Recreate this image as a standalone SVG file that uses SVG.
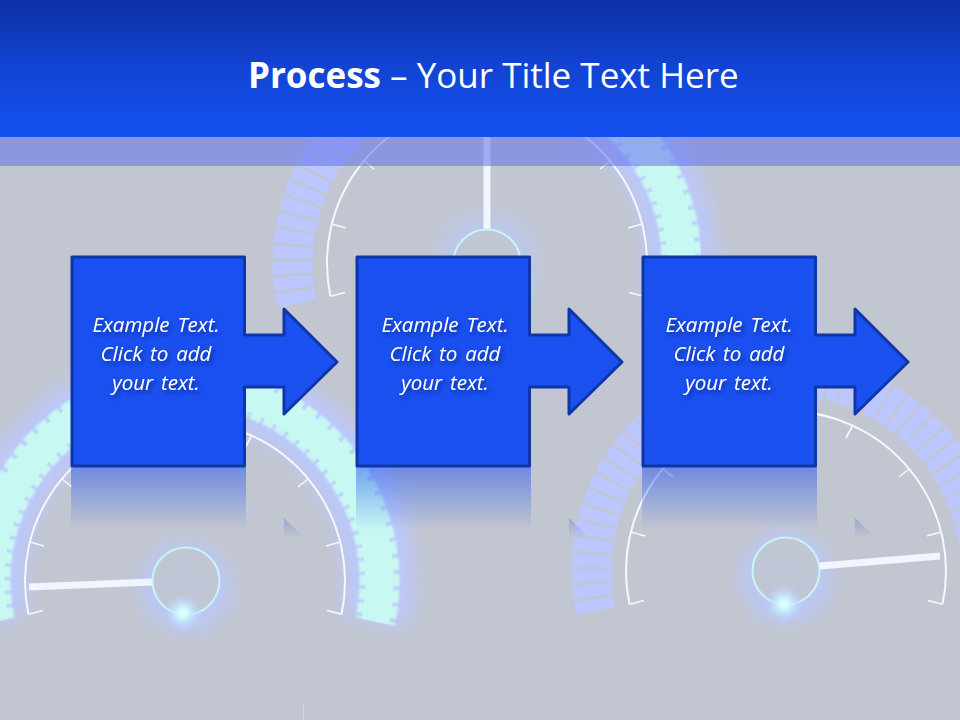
<svg xmlns="http://www.w3.org/2000/svg" width="960" height="720" viewBox="0 0 960 720">
<style>
.lav{fill:none;stroke:#bcc6ff;stroke-width:40;stroke-dasharray:12.5 2.5}
.aq{fill:none;stroke:#c8f8f2;stroke-width:40;stroke-dasharray:12 3;filter:url(#soft)}
.aqc{fill:none;stroke:#c8f8f2;stroke-width:28}
.halo{fill:none;stroke:#bcc8fd;stroke-width:68;filter:url(#blur)}
.arc{fill:none;stroke:#f4f8ff;stroke-width:2}
.tk{stroke:#f4f8ff;stroke-width:1.6}
.needle{stroke:#f2f5ff;stroke-width:7;fill:none}
.hub{fill:#c2c6d0;fill-opacity:.85;stroke:#c8f4f8;stroke-width:2}
.box{fill:#1a50f0;stroke:#0e36a8;stroke-width:3;stroke-linejoin:round}
.lbl{font-family:"Open Sans","Noto Sans",sans-serif;font-style:italic;font-size:20.500px;fill:#fff;text-anchor:middle;word-spacing:2.500px;filter:url(#ts)}
.ttl{font-family:"Open Sans","Noto Sans",sans-serif;font-size:35px;fill:#fff}
</style>
<defs>
<linearGradient id="hd" x1="0" y1="0" x2="0" y2="1"><stop offset="0" stop-color="#0c30a4"/><stop offset=".5" stop-color="#1244d4"/><stop offset="1" stop-color="#1450f0"/></linearGradient>
<linearGradient id="rf" x1="0" y1="467" x2="0" y2="530" gradientUnits="userSpaceOnUse"><stop offset="0" stop-color="#1a50f0" stop-opacity=".5"/><stop offset="1" stop-color="#1a50f0" stop-opacity="0"/></linearGradient>
<linearGradient id="rt" x1="0" y1="516" x2="0" y2="538" gradientUnits="userSpaceOnUse"><stop offset="0" stop-color="#2a50d0" stop-opacity=".3"/><stop offset="1" stop-color="#2a50d0" stop-opacity="0"/></linearGradient>
<radialGradient id="hg"><stop offset="0" stop-color="#b8c8ff" stop-opacity=".95"/><stop offset=".6" stop-color="#b8c8ff" stop-opacity=".8"/><stop offset="1" stop-color="#b8c8ff" stop-opacity="0"/></radialGradient>
<radialGradient id="sp"><stop offset="0" stop-color="#f0ffff"/><stop offset=".3" stop-color="#c8f8fa" stop-opacity=".95"/><stop offset=".6" stop-color="#c0e0ff" stop-opacity=".6"/><stop offset="1" stop-color="#b8c8ff" stop-opacity="0"/></radialGradient>
<filter id="blur" x="-30%" y="-30%" width="160%" height="160%"><feGaussianBlur stdDeviation="10"/></filter>
<filter id="soft" x="-10%" y="-10%" width="120%" height="120%"><feGaussianBlur stdDeviation="1.100"/></filter>
<filter id="ts" x="-10%" y="-30%" width="125%" height="170%"><feDropShadow dx="2" dy="2.500" stdDeviation="2" flood-color="#0a2080" flood-opacity=".8"/></filter>
<path id="full" d="M-190.2 40.4A194.5 194.5 0 1 1 190.2 40.4"/>
<path id="lh" d="M-190.2 40.4A194.5 194.5 0 0 1 0 -194.5"/>
<path id="rh" d="M0 -194.5A194.5 194.5 0 0 1 190.2 40.4"/>
<path id="rl" d="M-190.2 40.4A194.5 194.5 0 1 1 194.2 -10.2"/>
<path id="re" d="M194.2 -10.2A194.5 194.5 0 0 1 190.2 40.4"/>
<g id="dial">
<path class="arc" d="M-156.5 33.3A160 160 0 1 1 156.5 33.3"/>
<g class="tk">
<line x1="-156.5" y1="33.3" x2="-142" y2="29.5"/>
<line x1="156.5" y1="33.3" x2="142" y2="29.5"/>
<line x1="155" y1="-39" x2="141" y2="-35"/>
<line x1="-155" y1="-39" x2="-141" y2="-35"/>
<line x1="123" y1="-102" x2="113" y2="-94"/>
<line x1="-123" y1="-102" x2="-113" y2="-94"/>
<line x1="67" y1="-146" x2="60" y2="-133"/>
<line x1="-67" y1="-146" x2="-60" y2="-133"/>
</g>
</g>
</defs>
<rect id="background" width="960" height="720" fill="#c2c6d0"/>
<g id="gauge-top" transform="translate(487 263)">
<use href="#rh" class="halo"/>
<use href="#lh" class="lav"/>
<use href="#rh" class="aqc"/>
<use href="#rh" class="aq"/>
<use href="#dial"/>
<circle r="64" fill="url(#hg)" opacity=".6"/>
<line class="needle" x1="0" y1="-33" x2="0" y2="-126"/>
<circle class="hub" r="33.5"/>
</g>
<g id="gauge-left" transform="translate(185 581)">
<use href="#full" class="halo"/>
<use href="#full" class="aqc"/>
<use href="#full" class="aq"/>
<use href="#dial"/>
<circle cx="1" cy="6" r="58" fill="url(#hg)" opacity=".85"/>
<circle cx="1" class="hub" r="33.5"/>
<line class="needle" x1="-33" y1="1" x2="-156" y2="6"/>
<circle cx="-2" cy="32" r="20" fill="url(#sp)"/>
</g>
<g id="gauge-right" transform="translate(786 571)">
<use href="#re" class="halo"/>
<use href="#rl" class="lav"/>
<use href="#re" class="aqc"/>
<use href="#re" class="aq"/>
<use href="#dial"/>
<circle cy="6" r="58" fill="url(#hg)" opacity=".85"/>
<circle class="hub" r="33.5"/>
<line class="needle" x1="34" y1="-5" x2="154" y2="-15"/>
<circle cx="-2" cy="33" r="20" fill="url(#sp)"/>
</g>
<line id="mark" x1="303.500" y1="704" x2="303.500" y2="720" stroke="#e4e8f4" stroke-width="1" opacity=".6"/>
<g id="reflections">
<rect x="71" y="467" width="175" height="64" fill="url(#rf)"/>
<rect x="356" y="467" width="175" height="64" fill="url(#rf)"/>
<rect x="642" y="467" width="175" height="64" fill="url(#rf)"/>
<path d="M284 518L337 570H284Z" fill="url(#rt)"/>
<path d="M569 518L622 570H569Z" fill="url(#rt)"/>
<path d="M855 518L908 570H855Z" fill="url(#rt)"/>
</g>
<rect id="header-band" y="137" width="960" height="29" fill="#6070ee" opacity=".55"/>
<g id="header">
<rect width="960" height="137" fill="url(#hd)"/>
<text class="ttl" x="248" y="88"><tspan font-weight="700">Process</tspan> – Your Title Text Here</text>
</g>
<g id="step-1">
<path class="box" d="M72 257H244.500V335H284V309L337 362L284 414V387H244.500V466H72Z"/>
<text class="lbl" x="156" y="332">Example Text.</text>
<text class="lbl" x="156" y="361">Click to add</text>
<text class="lbl" x="156" y="390">your text.</text>
</g>
<g id="step-2">
<path class="box" d="M357 257H529.500V335H569V309L622 362L569 414V387H529.500V466H357Z"/>
<text class="lbl" x="445" y="332">Example Text.</text>
<text class="lbl" x="445" y="361">Click to add</text>
<text class="lbl" x="445" y="390">your text.</text>
</g>
<g id="step-3">
<path class="box" d="M643 257H815.500V335H855V309L908 362L855 414V387H815.500V466H643Z"/>
<text class="lbl" x="729" y="332">Example Text.</text>
<text class="lbl" x="729" y="361">Click to add</text>
<text class="lbl" x="729" y="390">your text.</text>
</g>
</svg>
